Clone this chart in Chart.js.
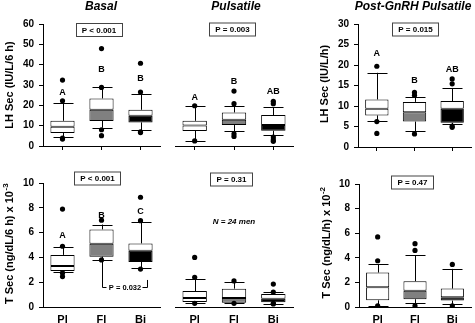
<!DOCTYPE html>
<html>
<head>
<meta charset="utf-8">
<script src="https://cdn.jsdelivr.net/npm/chart.js@4.4.1/dist/chart.umd.min.js"></script>
<style>
  body { margin: 0; background: #fff; width: 475px; height: 323px; position: relative; overflow: hidden; }
  canvas { position: absolute; }
</style>
</head>
<body>
<canvas id="lhBasal" width="165" height="160" style="left:0;top:0"></canvas>
<canvas id="lhPuls" width="135" height="160" style="left:165px;top:0"></canvas>
<canvas id="lhGnrh" width="175" height="160" style="left:300px;top:0"></canvas>
<canvas id="tBasal" width="165" height="163" style="left:0;top:160px"></canvas>
<canvas id="tPuls" width="135" height="163" style="left:165px;top:160px"></canvas>
<canvas id="tGnrh" width="175" height="163" style="left:300px;top:160px"></canvas>
<script>
const groups = ['Pl', 'Fl', 'Bi'];
const lowerFill = ['#ffffff', '#808080', '#000000'];

// each box: [min, q1, median, q3, max]
const lhBasalBox = [[4.6, 6.4, 9.5, 12.4, 21.1], [9.0, 12.3, 17.8, 23.4, 28.8], [7.8, 11.6, 14.9, 17.8, 25.7]];
const lhBasalDots = [[32.4, 22.2, 3.9, 3.4], [47.9, 28.8, 8.0, 5.1], [40.7, 26.5, 6.9, 6.6]];
const lhBasalLetters = ['A', 'B', 'B'];

const lhPulsBox = [[2.5, 7.4, 10.1, 12.4, 19.8], [7.2, 10.3, 12.9, 16.5, 19.8], [5.2, 7.5, 10.3, 15.2, 19.0]];
const lhPulsDots = [[19.8, 2.5], [27.0, 20.8, 6.0, 4.7], [22.0, 20.8, 4.4, 3.1, 2.3]];
const lhPulsLetters = ['A', 'B', 'AB'];

const lhGnrhBox = [[6.4, 7.7, 9.3, 11.6, 18.1], [3.8, 6.2, 8.5, 11.0, 12.3], [5.5, 5.9, 9.3, 11.2, 14.4]];
const lhGnrhDots = [[19.7, 6.2, 3.3], [13.3, 12.6, 3.2], [16.6, 15.4, 5.1, 4.8]];
const lhGnrhLetters = ['A', 'B', 'AB'];

const tBasalBox = [[2.8, 2.9, 3.3, 4.2, 4.8], [3.8, 4.06, 5.1, 6.26, 6.65], [3.15, 3.63, 4.54, 5.13, 6.85]];
const tBasalDots = [[7.9, 4.9, 2.75, 2.45], [7.0, 3.8], [8.85, 6.96, 3.06]];
const tBasalLetters = ['A', 'B', 'C'];

const tPulsBox = [[0.3, 0.4, 0.73, 1.29, 2.28], [0.3, 0.35, 0.73, 1.48, 2.0], [0.25, 0.38, 0.67, 1.05, 1.2]];
const tPulsDots = [[4.0, 2.4, 0.3], [2.1, 0.3], [1.85, 1.2, 0.3, 0.25]];

const tGnrhBox = [[0.1, 0.54, 1.6, 2.8, 3.46], [0.3, 0.63, 1.33, 2.1, 4.2], [0.25, 0.52, 0.8, 1.5, 3.1]];
const tGnrhDots = [[5.7, 3.76, 0.1], [5.15, 4.6, 0.1], [3.46, 0.1]];

const FONT = '"Liberation Sans", Arial, sans-serif';

function makePanel(id, cfg) {
    const ctx = document.getElementById(id).getContext('2d');

    // outlier dots as {x, y} points on the category axis
    const dotPoints = [];
    cfg.dots.forEach((list, i) => list.forEach(v => dotPoints.push({ x: groups[i], y: v })));

    // whiskers, letters, p box and titles
    const extras = {
        id: 'extras',
        beforeDatasetsDraw(chart) {
            const c = chart.ctx, xs = chart.scales.x, ys = chart.scales.y;
            c.save();
            c.strokeStyle = '#000';
            c.lineWidth = 1;
            cfg.box.forEach((b, i) => {
                const x = Math.round(xs.getPixelForValue(i)) + 0.5;
                const pMin = ys.getPixelForValue(b[0]), pQ1 = ys.getPixelForValue(b[1]);
                const pQ3 = ys.getPixelForValue(b[3]), pMax = ys.getPixelForValue(b[4]);
                c.beginPath();
                c.moveTo(x, pMin); c.lineTo(x, pQ1);
                c.moveTo(x, pQ3); c.lineTo(x, pMax);
                c.moveTo(x - 10, Math.round(pMin) + 0.5); c.lineTo(x + 10, Math.round(pMin) + 0.5);
                c.moveTo(x - 10, Math.round(pMax) + 0.5); c.lineTo(x + 10, Math.round(pMax) + 0.5);
                c.stroke();
            });
            c.restore();
        },
        afterDraw(chart) {
            const c = chart.ctx, xs = chart.scales.x, ys = chart.scales.y;
            c.save();
            c.fillStyle = '#000';
            c.textAlign = 'center';
            c.textBaseline = 'middle';

            if (cfg.title) {
                c.font = 'italic bold 12px ' + FONT;
                c.fillText(cfg.title, cfg.titleX, 7);
            }

            if (cfg.letters) {
                c.font = 'bold 9px ' + FONT;
                cfg.letters.forEach((t, i) => c.fillText(t, xs.getPixelForValue(i), ys.getPixelForValue(cfg.letterY[i])));
            }

            // p value box
            c.font = 'bold 8px ' + FONT;
            const w = c.measureText(cfg.pText).width + 12;
            c.fillStyle = '#fff';
            c.fillRect(Math.round(cfg.pX - w / 2) + 0.5, cfg.pY - 6.5, Math.round(w), 13);
            c.strokeStyle = '#444';
            c.lineWidth = 1;
            c.strokeRect(Math.round(cfg.pX - w / 2) + 0.5, cfg.pY - 6.5, Math.round(w), 13);
            c.fillStyle = '#000';
            c.fillText(cfg.pText, cfg.pX, cfg.pY + 0.5);

            if (cfg.note) {
                c.font = 'italic bold 8px ' + FONT;
                c.fillText(cfg.note, (chart.chartArea.left + chart.chartArea.right) / 2, ys.getPixelForValue(6.85));
            }

            if (cfg.bracket) {
                const xl = Math.round(xs.getPixelForValue(1)) + 0.5;
                const xr = Math.round(xs.getPixelForValue(2)) + 6.5;
                const yb = Math.round(ys.getPixelForValue(1.61)) + 0.5;
                c.strokeStyle = '#000';
                c.beginPath();
                c.moveTo(xl, ys.getPixelForValue(3.63)); c.lineTo(xl, yb); c.lineTo(xl + 4, yb);
                c.moveTo(xr, ys.getPixelForValue(2.18)); c.lineTo(xr, yb); c.lineTo(xr - 5, yb);
                c.stroke();
                c.font = 'bold 7.5px ' + FONT;
                c.fillText(cfg.bracket, (xl + xr) / 2, yb);
            }

            // rotated y axis title, with optional superscript
            if (cfg.yTitle) {
                c.translate(cfg.yTitleX, cfg.yTitleY);
                c.rotate(-Math.PI / 2);
                c.font = 'bold 11px ' + FONT;
                const mainW = c.measureText(cfg.yTitle).width;
                let supW = 0;
                if (cfg.ySup) {
                    c.font = 'bold 8px ' + FONT;
                    supW = c.measureText(cfg.ySup).width;
                }
                const start = -(mainW + supW) / 2;
                c.textAlign = 'left';
                c.font = 'bold 11px ' + FONT;
                c.fillText(cfg.yTitle, start, 0);
                if (cfg.ySup) {
                    c.font = 'bold 8px ' + FONT;
                    c.fillText(cfg.ySup, start + mainW + 0.5, -4);
                }
            }
            c.restore();
        }
    };

    return new Chart(ctx, {
        type: 'bar',
        data: {
            labels: groups,
            datasets: [
                {
                    type: 'line',
                    data: dotPoints,
                    showLine: false,
                    pointRadius: 2.6,
                    pointBackgroundColor: '#000',
                    pointBorderColor: '#000',
                    pointBorderWidth: 0
                },
                {
                    data: cfg.box.map(b => [b[2], b[3]]),
                    backgroundColor: '#fff',
                    borderColor: '#000',
                    borderWidth: 1,
                    borderSkipped: false,
                    grouped: false,
                    barPercentage: 0.62,
                    categoryPercentage: 1
                },
                {
                    data: cfg.box.map(b => [b[1], b[2]]),
                    backgroundColor: lowerFill,
                    borderColor: '#000',
                    borderWidth: 1,
                    borderSkipped: false,
                    grouped: false,
                    barPercentage: 0.62,
                    categoryPercentage: 1
                }
            ]
        },
        options: {
            responsive: false,
            animation: false,
            layout: { padding: cfg.padding },
            plugins: { legend: { display: false }, tooltip: { enabled: false } },
            scales: {
                x: {
                    offset: true,
                    afterFit: s => { s.height = cfg.xHeight; },
                    border: { display: true, color: '#000', width: 1 },
                    grid: {
                        offset: false,
                        drawOnChartArea: false,
                        drawTicks: true,
                        tickLength: 4,
                        tickColor: cfg.xLabels ? 'rgba(0,0,0,0)' : '#000'
                    },
                    ticks: {
                        display: cfg.xLabels,
                        color: '#000',
                        padding: 2,
                        font: { family: FONT, size: 11, weight: 'bold' }
                    }
                },
                y: {
                    display: cfg.showY,
                    min: 0,
                    max: cfg.yMax,
                    afterFit: s => { s.width = cfg.yWidth; },
                    border: { display: true, color: '#000', width: 1 },
                    grid: { drawOnChartArea: false, drawTicks: true, tickLength: 4, color: '#000' },
                    ticks: {
                        stepSize: cfg.yStep,
                        color: '#000',
                        padding: 5,
                        font: { family: FONT, size: 10, weight: 'bold' }
                    }
                }
            }
        },
        plugins: [extras]
    });
}

makePanel('lhBasal', {
    box: lhBasalBox, dots: lhBasalDots, letters: lhBasalLetters, letterY: [26.3, 37.4, 33],
    yMax: 60, yStep: 10, showY: true, yWidth: 43, xHeight: 14, xLabels: false,
    padding: { left: 0, top: 24, right: 5, bottom: 0 },
    title: 'Basal', titleX: 101, pText: 'P < 0.001', pX: 99, pY: 30,
    yTitle: 'LH Sec (IU/L/6 h)', yTitleX: 10, yTitleY: 85
});
makePanel('lhPuls', {
    box: lhPulsBox, dots: lhPulsDots, letters: lhPulsLetters, letterY: [24, 31.7, 26.6],
    yMax: 60, yStep: 10, showY: false, yWidth: 0, xHeight: 14, xLabels: false,
    padding: { left: 10, top: 24, right: 7, bottom: 0 },
    title: 'Pulsatile', titleX: 71, pText: 'P = 0.003', pX: 67.5, pY: 29.5
});
makePanel('lhGnrh', {
    box: lhGnrhBox, dots: lhGnrhDots, letters: lhGnrhLetters, letterY: [22.9, 16.1, 18.8],
    yMax: 30, yStep: 5, showY: true, yWidth: 58, xHeight: 13, xLabels: false,
    padding: { left: 0, top: 24, right: 2, bottom: 0 },
    title: 'Post-GnRH Pulsatile', titleX: 113, pText: 'P = 0.015', pX: 115.5, pY: 29.5,
    yTitle: 'LH Sec (IU/L/h)', yTitleX: 25, yTitleY: 84
});
makePanel('tBasal', {
    box: tBasalBox, dots: tBasalDots, letters: tBasalLetters, letterY: [5.8, 7.4, 7.7],
    yMax: 10, yStep: 2, showY: true, yWidth: 43, xHeight: 16, xLabels: true,
    padding: { left: 0, top: 23, right: 5, bottom: 0 },
    pText: 'P < 0.001', pX: 97.5, pY: 18.5, bracket: 'P = 0.032',
    yTitle: 'T Sec (ng/dL/6 h) x 10', ySup: '-3', yTitleX: 10, yTitleY: 84
});
makePanel('tPuls', {
    box: tPulsBox, dots: tPulsDots,
    yMax: 10, yStep: 2, showY: false, yWidth: 0, xHeight: 16, xLabels: true,
    padding: { left: 10, top: 23, right: 7, bottom: 0 },
    pText: 'P = 0.31', pX: 66.5, pY: 19.5, note: 'N = 24 men'
});
makePanel('tGnrh', {
    box: tGnrhBox, dots: tGnrhDots,
    yMax: 10, yStep: 2, showY: true, yWidth: 59, xHeight: 16, xLabels: true,
    padding: { left: 0, top: 24, right: 2, bottom: 0 },
    pText: 'P = 0.47', pX: 112.5, pY: 22.5,
    yTitle: 'T Sec (ng/dL/h) x 10', ySup: '-2', yTitleX: 27, yTitleY: 83
});
</script>
</body>
</html>
